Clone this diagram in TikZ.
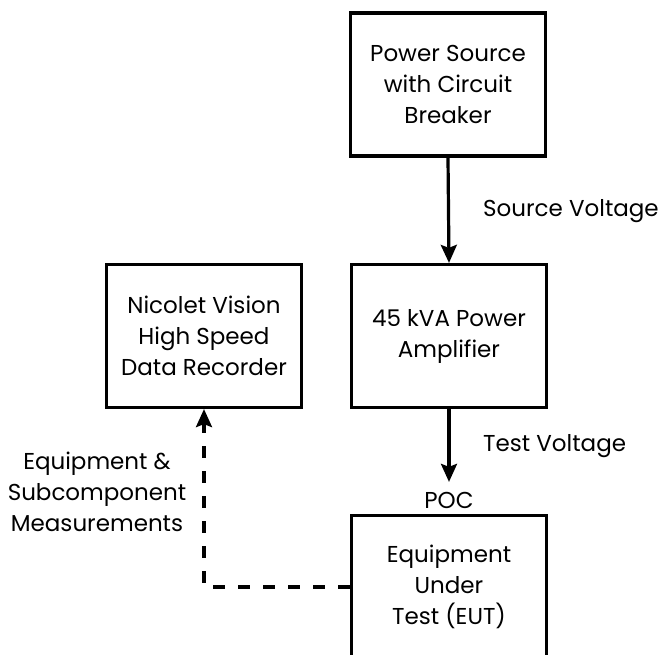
\documentclass[tikz,border=0pt]{standalone}
\usepackage{fontspec}
\setmainfont{Poppins}
\usetikzlibrary{arrows.meta}
\tikzset{
  blk/.style={draw, line width=3.2pt, minimum width=195pt, minimum height=143pt,
    align=center, inner sep=0pt, font=\fontsize{23}{31}\selectfont},
  lbl/.style={font=\fontsize{23}{31}\selectfont, inner sep=0pt, align=center},
  arr/.style={line width=3.2pt, -{Stealth[length=18pt,width=16pt,inset=3pt]}},
  darr/.style={arr, dash pattern=on 12pt off 13pt}
}
\begin{document}
\begin{tikzpicture}[x=1pt,y=1pt]
\useasboundingbox (0,0) rectangle (665,-655);
\clip (0,0) rectangle (665,-655);
\node[blk] (ps) at (448,-84.5) {Power Source\\with Circuit\\Breaker};
\node[blk] (amp) at (449,-336) {45 kVA Power\\Amplifier};
\node[blk] (nic) at (204,-336) {Nicolet Vision\\High Speed\\Data Recorder};
\node[blk] (eut) at (449,-587) {Equipment\\Under\\Test (EUT)};
\draw[arr] (ps.south) -- (amp.north);
\draw[arr] (amp.south) -- ([yshift=32pt]eut.north);
\node[lbl, anchor=base west] (sv) at (483,-217) {Source Voltage};
\node[lbl, anchor=base west] (tv) at (483,-452) {Test Voltage};
\node[lbl, anchor=base] (poc) at (449,-508) {POC};
\node[lbl, anchor=north] (meas) at (97,-452) {Equipment \&\\Subcomponent\\Measurements};
\draw[darr] (eut.west) -| (nic.south);
\end{tikzpicture}
\end{document}
